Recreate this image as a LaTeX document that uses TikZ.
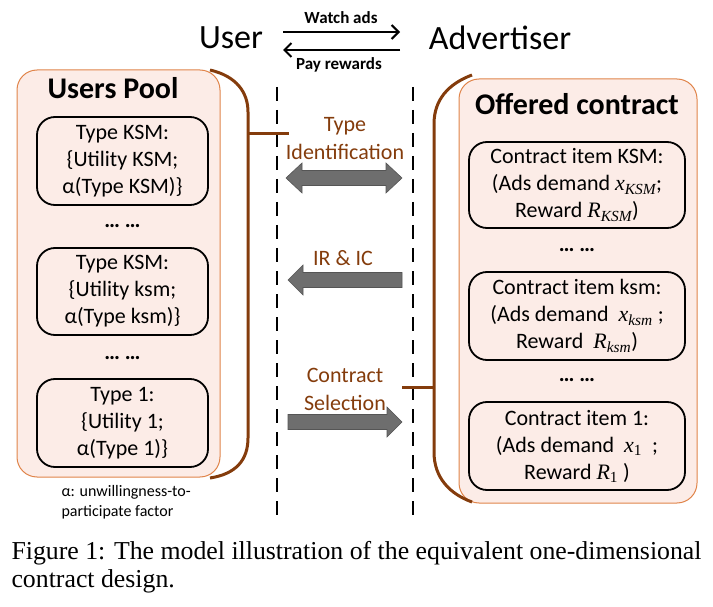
\documentclass[tikz,border=0pt]{standalone}
\usepackage{fontspec}
\setmainfont{Carlito}
\newfontfamily\capfont{Liberation Serif}
\newfontfamily\mfont{Liberation Serif}
\usetikzlibrary{arrows.meta}
\definecolor{brn}{HTML}{843C0C}
\definecolor{poolfill}{HTML}{FCECE7}
\definecolor{pooledge}{HTML}{E0844A}
\definecolor{blk}{HTML}{6E6E6E}
\definecolor{blkedge}{HTML}{555555}
\definecolor{lbl}{HTML}{843C0C}
\newcommand\mv[2]{{\mfont\itshape #1}\textsubscript{\mfont\itshape #2}}
\newcommand\mvn[2]{{\mfont\itshape #1}\textsubscript{\mfont #2}}
\tikzset{
  pool/.style={draw=pooledge, line width=1pt, fill=poolfill, rounded corners=20pt},
  itembox/.style={draw=black, line width=1.8pt, rounded corners=18pt, align=center,
     inner sep=0pt, font=\fontsize{22}{27}\selectfont},
  pooltitle/.style={font=\bfseries\fontsize{30}{32}\selectfont},
  dots/.style={font=\fontsize{22}{24}\selectfont},
  bracket/.style={draw=brn, line width=3pt},
  lifeline/.style={draw=black, line width=2pt, dash pattern=on 14pt off 9pt},
  midlbl/.style={text=lbl, align=center, font=\fontsize{22}{28}\selectfont},
  blockarrow/.style={fill=blk, draw=blkedge, line width=0.6pt},
  msg/.style={line width=2.5pt, -{Straight Barb[length=7pt,width=14pt,line width=2pt]}},
  msglbl/.style={font=\bfseries\fontsize{17}{19}\selectfont},
  captext/.style={anchor=west, font=\capfont\fontsize{25.8}{28}\selectfont},
}
\begin{document}
\begin{tikzpicture}[x=1pt,y=-1pt]
\useasboundingbox (0,0) rectangle (713,607);
% top actors
\node[font=\fontsize{34}{36}\selectfont] (user) at (231,38) {User};
\node[font=\fontsize{34}{36}\selectfont] (adv) at (500,38) {Advertiser};
\coordinate (w1) at (283,32); \coordinate (w2) at (400,32);
\coordinate (p1) at (400,50); \coordinate (p2) at (283,50);
\draw[msg] (w1) -- (w2);
\draw[msg] (p1) -- (p2);
\node[msglbl] (watch) at (341,18) {Watch ads};
\node[msglbl] (pay) at (339,65) {Pay rewards};
% lifelines
\coordinate (l1) at (277,87); \coordinate (l2) at (277,522);
\coordinate (r1) at (413,87); \coordinate (r2) at (413,522);
\draw[lifeline] (l1) -- (l2);
\draw[lifeline] (r1) -- (r2);
% users pool
\draw[pool] (17,70) rectangle (220,477);
\node[pooltitle] (ptitle) at (113,88) {Users Pool};
\node[itembox, minimum width=171pt, minimum height=88pt] (t1) at (122.5,161)
  {Type KSM:\\ \{Utility KSM;\\ α(Type KSM)\}};
\node[dots] (d1) at (122.5,226) {\textbf{…} \textbf{…}};
\node[itembox, minimum width=171pt, minimum height=87pt] (t2) at (122.5,291.5)
  {Type KSM:\\ \{Utility ksm;\\ α(Type ksm)\}};
\node[dots] (d2) at (122.5,358) {\textbf{…} \textbf{…}};
\node[itembox, minimum width=171pt, minimum height=88pt] (t3) at (122.5,423)
  {Type 1:\\ \{Utility 1;\\ α(Type 1)\}};
\node[anchor=north west, align=left, font=\fontsize{16}{20}\selectfont] (fn) at (58,482)
  {α: unwillingness-to-\\participate factor};
% offered contract
\draw[pool] (459,79) rectangle (697,503);
\node[pooltitle] (otitle) at (577,104) {Offered contract};
\node[itembox, minimum width=216pt, minimum height=86pt] (c1) at (577,185)
  {Contract item KSM:\\ (Ads demand \mv{x}{KSM};\\ Reward \mv{R}{KSM})};
\node[dots] (d3) at (577,250) {\textbf{…} \textbf{…}};
\node[itembox, minimum width=216pt, minimum height=88pt] (c2) at (577,316)
  {Contract item ksm:\\ (Ads demand \ \mv{x}{ksm} ;\\ Reward \ \mv{R}{ksm})};
\node[dots] (d4) at (577,380) {\textbf{…} \textbf{…}};
\node[itembox, minimum width=216pt, minimum height=88pt] (c3) at (577,446)
  {Contract item 1:\\ (Ads demand \ \mvn{x}{1} \ ;\\ Reward \mvn{R}{1} )};
% brackets
\draw[bracket] (210,70) .. controls (236,76) and (248,92) .. (248,112) -- (248,438)
  .. controls (248,460) and (236,474) .. (210,478);
\draw[bracket] (472,75) .. controls (448,84) and (434,100) .. (434,124) -- (434,452)
  .. controls (434,478) and (450,494) .. (472,502);
\coordinate (bl) at (248,134); \coordinate (blx) at (289,134);
\coordinate (br) at (435,387); \coordinate (brx) at (402,387);
\draw[bracket] (bl) -- (blx);
\draw[bracket] (br) -- (brx);
% middle labels and block arrows
\node[midlbl] (typeid) at (345,139) {Type\\Identification};
\draw[blockarrow] (286,178) -- (302,163) -- (302,170.5) -- (386,170.5) -- (386,163)
  -- (402,178) -- (386,193) -- (386,185.5) -- (302,185.5) -- (302,193) -- cycle;
\node[midlbl] (iric) at (343,258) {IR \& IC};
\draw[blockarrow] (288,280) -- (303,265) -- (303,272.5) -- (402,272.5) -- (402,287.5)
  -- (303,287.5) -- (303,295) -- cycle;
\node[midlbl] (csel) at (345,389) {Contract\\Selection};
\draw[blockarrow] (288,414.5) -- (387,414.5) -- (387,407) -- (402,422) -- (387,437)
  -- (387,429.5) -- (288,429.5) -- cycle;
% caption
\node[captext] (cap1) at (8,553)
  {Figure 1: The model illustration of the equivalent one-dimensional};
\node[captext] (cap2) at (8,581)
  {contract design.};
\end{tikzpicture}
\end{document}
